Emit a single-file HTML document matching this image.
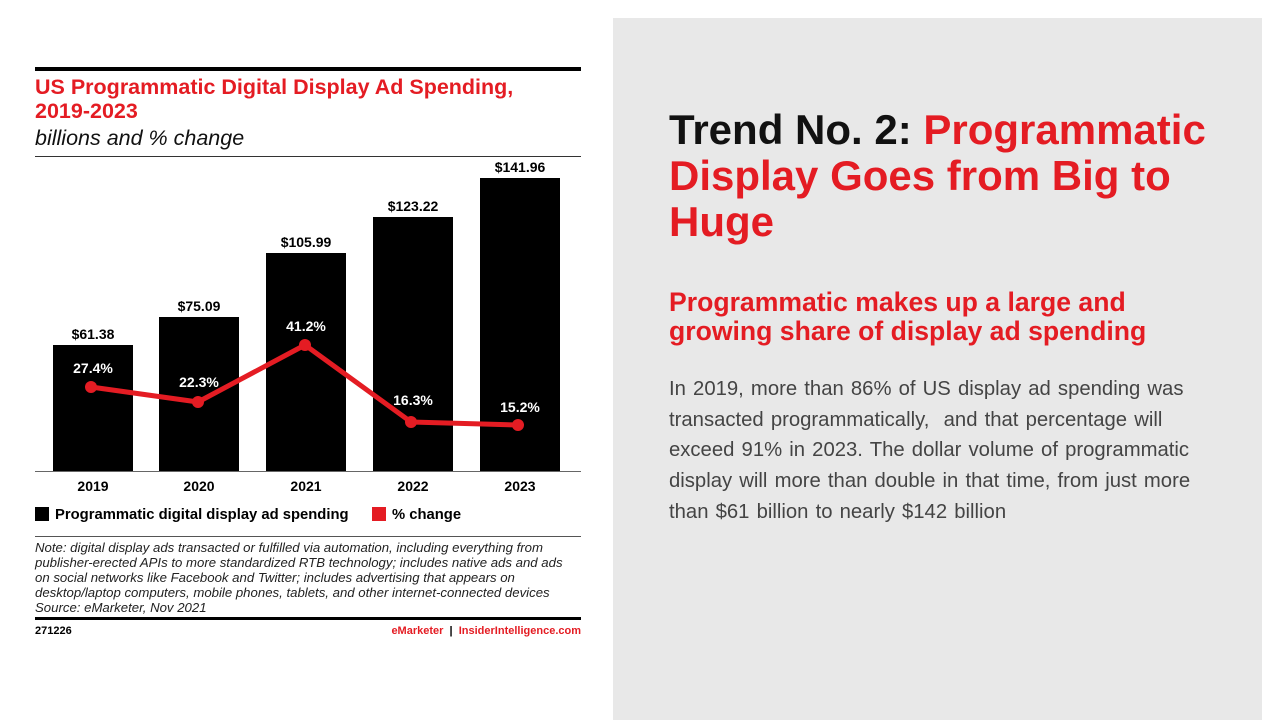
<!DOCTYPE html>
<html><head><style>
body{margin:0;width:1280px;height:720px;background:#fff;position:relative;overflow:hidden;font-family:"Liberation Sans",sans-serif}
.a{position:absolute;white-space:nowrap}
</style></head><body>
<div class="a" style="left:613px;top:18px;width:649px;height:702px;background:#e8e8e8"></div>
<div class="a" style="left:35px;top:67px;width:546px;height:4px;background:#000"></div>
<div class="a" style="left:35px;top:75px;font-size:21.5px;font-weight:bold;color:#e41c23;line-height:24px">US Programmatic Digital Display Ad Spending,<br>2019-2023</div>
<div class="a" style="left:35px;top:126px;font-size:21.5px;font-style:italic;color:#111">billions and % change</div>
<div class="a" style="left:35px;top:156px;width:546px;height:1px;background:#333"></div>
<svg class="a" style="left:0;top:0" width="600" height="535">
<g fill="#000">
<rect x="53" y="345" width="80" height="126"/>
<rect x="159" y="317" width="80" height="154"/>
<rect x="266" y="253" width="80" height="218"/>
<rect x="373" y="217" width="80" height="254"/>
<rect x="480" y="178" width="80" height="293"/>
</g>
<line x1="35" y1="471.5" x2="581" y2="471.5" stroke="#666" stroke-width="1"/>
<g font-size="14" font-weight="bold" text-anchor="middle" font-family="Liberation Sans">
<text x="93" y="339">$61.38</text><text x="199" y="311">$75.09</text><text x="306" y="247">$105.99</text><text x="413" y="211">$123.22</text><text x="520" y="172">$141.96</text>
<text x="93" y="491">2019</text><text x="199" y="491">2020</text><text x="306" y="491">2021</text><text x="413" y="491">2022</text><text x="520" y="491">2023</text>
</g>
<polyline points="91,387 198,402 305,345 411,422 518,425" fill="none" stroke="#e41c23" stroke-width="5" stroke-linejoin="round"/>
<g fill="#e41c23"><circle cx="91" cy="387" r="6"/><circle cx="198" cy="402" r="6"/><circle cx="305" cy="345" r="6"/><circle cx="411" cy="422" r="6"/><circle cx="518" cy="425" r="6"/></g>
<g font-size="14" font-weight="bold" fill="#fff" text-anchor="middle" font-family="Liberation Sans">
<text x="93" y="373">27.4%</text><text x="199" y="387">22.3%</text><text x="306" y="331">41.2%</text><text x="413" y="405">16.3%</text><text x="520" y="412">15.2%</text>
</g>
<rect x="35" y="507" width="14" height="14" fill="#000"/>
<text x="55" y="519" font-size="14.8" font-weight="bold" font-family="Liberation Sans">Programmatic digital display ad spending</text>
<rect x="372" y="507" width="14" height="14" fill="#e41c23"/>
<text x="392" y="519" font-size="14.8" font-weight="bold" font-family="Liberation Sans">% change</text>
</svg>
<div class="a" style="left:35px;top:536px;width:546px;height:1px;background:#555"></div>
<div class="a" style="left:35px;top:540px;font-size:13.2px;font-style:italic;color:#222;line-height:15px">Note: digital display ads transacted or fulfilled via automation, including everything from<br>publisher-erected APIs to more standardized RTB technology; includes native ads and ads<br>on social networks like Facebook and Twitter; includes advertising that appears on<br>desktop/laptop computers, mobile phones, tablets, and other internet-connected devices<br>Source: eMarketer, Nov 2021</div>
<div class="a" style="left:35px;top:617px;width:546px;height:3px;background:#000"></div>
<div class="a" style="left:35px;top:625px;font-size:11px;font-weight:bold">271226</div>
<div class="a" style="right:699px;top:625px;font-size:11px;font-weight:bold"><span style="color:#e41c23">eMarketer</span> &nbsp;|&nbsp; <span style="color:#e41c23">InsiderIntelligence.com</span></div>
<div class="a" style="left:669px;top:107px;font-size:42px;font-weight:bold;line-height:46px;color:#e41c23"><span style="color:#111">Trend No. 2:</span> Programmatic<br>Display Goes from Big to<br>Huge</div>
<div class="a" style="left:669px;top:288px;font-size:26.6px;font-weight:bold;line-height:29px;color:#e41c23">Programmatic makes up a large and<br>growing share of display ad spending</div>
<div class="a" style="left:669px;top:374px;font-size:20.3px;word-spacing:1.5px;line-height:30.7px;color:#444">In 2019, more than 86% of US display ad spending was<br>transacted programmatically,&nbsp; and that percentage will<br>exceed 91% in 2023. The dollar volume of programmatic<br>display will more than double in that time, from just more<br>than $61 billion to nearly $142 billion</div>
</body></html>
